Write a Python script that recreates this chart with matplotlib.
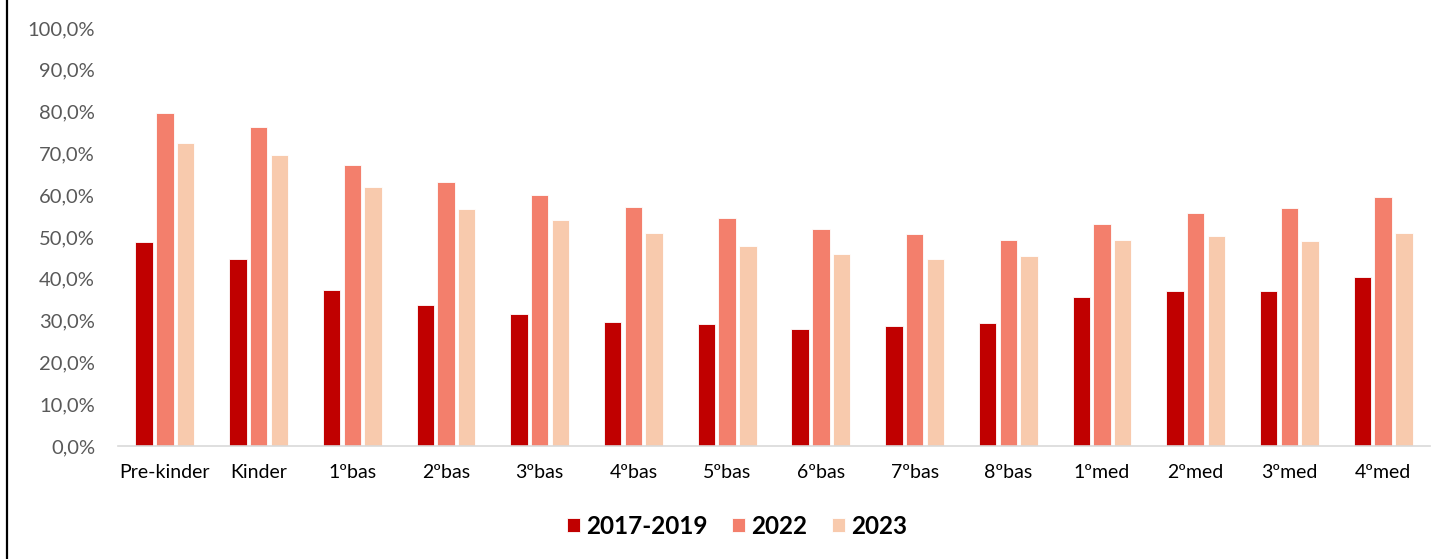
import matplotlib
matplotlib.use('Agg')
import matplotlib.pyplot as plt
from matplotlib.lines import Line2D
import numpy as np

plt.rcParams['font.family'] = ['Lato', 'DejaVu Sans']

# DATA
categories = ['Pre-kinder', 'Kinder', '1ºbas', '2ºbas', '3ºbas', '4ºbas', '5ºbas',
              '6ºbas', '7ºbas', '8ºbas', '1ºmed', '2ºmed', '3ºmed', '4ºmed']
v_2017_2019 = [48.9, 44.7, 37.3, 33.8, 31.6, 29.7, 29.3, 27.9, 28.6, 29.4, 35.6, 37.2, 37.0, 40.4]
v_2022 = [79.6, 76.4, 67.2, 63.1, 60.0, 57.1, 54.5, 51.9, 50.6, 49.2, 53.0, 55.7, 56.9, 59.5]
v_2023 = [72.4, 69.6, 62.0, 56.8, 54.0, 51.0, 47.8, 45.9, 44.7, 45.5, 49.4, 50.2, 49.1, 51.0]
series_labels = ['2017-2019', '2022', '2023']
colors = ['#C00000', '#F37F6C', '#F8CAAD']

fig = plt.figure(figsize=(14.48, 5.59), dpi=100)
ax = fig.add_axes([118/1448, 1-446/559, (1430-118)/1448, (446-28)/559])

x = np.arange(len(categories))
w = 0.185
step = 0.221
for i, (vals, lab, c) in enumerate(zip([v_2017_2019, v_2022, v_2023], series_labels, colors)):
    ax.bar(x + (i-1)*step, vals, width=w, color=c, label=lab,
           edgecolor='white', linewidth=0.6)

ax.set_xlim(-0.5, len(categories)-0.5)
ax.set_ylim(0, 100)
ax.set_yticks(np.arange(0, 101, 10))
ax.set_yticklabels([f'{v},0%' for v in range(0, 101, 10)])
ax.set_xticks(x)
ax.set_xticklabels(categories)

for s in ['top', 'right', 'left']:
    ax.spines[s].set_visible(False)
ax.spines['bottom'].set_color('#D9D9D9')
ax.spines['bottom'].set_linewidth(1.2)
ax.tick_params(axis='both', length=0, colors='#595959')
ax.tick_params(axis='y', pad=16.5, labelsize=14.5)
ax.tick_params(axis='x', pad=13, labelsize=14)
for t in ax.get_xticklabels():
    t.set_color('#000000')

leg = fig.legend(loc='center', bbox_to_anchor=(737/1448, 1-526/559), ncol=3,
                 frameon=False, handlelength=0.55, handleheight=0.55,
                 handletextpad=0.25, columnspacing=1.0,
                 prop={'size': 17.5, 'weight': 'bold'})

# left border line
fig.add_artist(Line2D([6.5/1448, 6.5/1448], [0, 1], color='black', linewidth=1.6,
                      transform=fig.transFigure))

fig.savefig('out.png', dpi=100)
